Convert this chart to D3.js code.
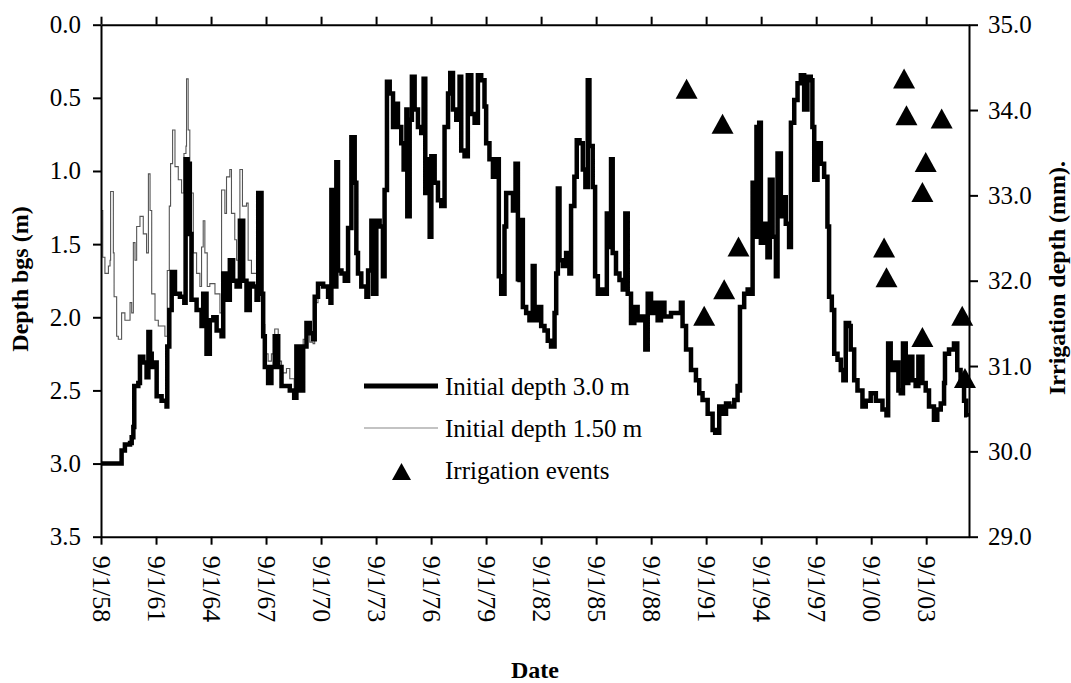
<!DOCTYPE html>
<html>
<head>
<meta charset="utf-8">
<script src="https://cdn.jsdelivr.net/npm/d3@7"></script>
<style>
  html, body { margin: 0; padding: 0; background: #fff; }
  svg { display: block; }
  text { font-family: "Liberation Serif", "Times New Roman", serif; fill: #000; }
</style>
</head>
<body>
<svg id="chart" width="1071" height="683"></svg>
<script>
// ---------------- DATA ----------------
// Depth below ground surface (m), simulation with initial depth 3.0 m (decimal years)
const depth3Year = [
1958.67,1959.52,1959.74,1959.79,1959.97,1960.25,1960.34,1960.43,1960.48,1960.70,1960.79,1960.97,1961.15,1961.25,1961.34,1961.43,1961.55,1961.70,1961.97,1962.24,
1962.28,1962.39,1962.52,1962.70,1962.97,1963.21,1963.28,1963.39,1963.51,1963.60,1963.88,1964.15,1964.24,1964.42,1964.60,1964.79,1964.97,1965.24,1965.33,1965.51,
1965.69,1965.87,1966.06,1966.24,1966.42,1966.60,1966.78,1966.96,1967.15,1967.24,1967.42,1967.51,1967.60,1967.78,1967.96,1968.14,1968.33,1968.51,1968.78,1968.96,
1969.20,1969.32,1969.51,1969.69,1969.87,1970.05,1970.23,1970.32,1970.50,1970.78,1971.05,1971.18,1971.23,1971.32,1971.50,1971.59,1971.78,1971.96,1972.14,1972.32,
1972.50,1972.59,1972.68,1972.86,1973.14,1973.23,1973.41,1973.50,1973.68,1973.86,1974.04,1974.13,1974.26,1974.41,1974.59,1974.68,1974.86,1975.04,1975.17,1975.32,
1975.37,1975.50,1975.62,1975.77,1975.95,1976.13,1976.26,1976.35,1976.50,1976.59,1976.68,1976.86,1977.04,1977.22,1977.40,1977.59,1977.71,1977.86,1978.04,1978.22,
1978.31,1978.49,1978.67,1978.86,1979.04,1979.22,1979.40,1979.58,1979.67,1979.85,1980.04,1980.22,1980.36,1980.49,1980.67,1980.76,1980.94,1981.13,1981.27,1981.40,
1981.49,1981.58,1981.67,1981.85,1982.03,1982.21,1982.31,1982.49,1982.67,1982.85,1983.03,1983.21,1983.40,1983.49,1983.58,1983.67,1983.85,1984.03,1984.21,1984.30,
1984.48,1984.61,1984.76,1984.94,1985.08,1985.21,1985.30,1985.48,1985.61,1985.76,1985.94,1986.12,1986.25,1986.39,1986.48,1986.57,1986.75,1986.94,1987.12,1987.26,
1987.39,1987.57,1987.75,1987.93,1988.12,1988.35,1988.48,1988.66,1988.84,1989.02,1989.20,1989.39,1989.57,1989.75,1990.02,1990.29,1990.38,1990.57,1990.84,1991.11,
1991.29,1991.47,1991.75,1992.02,1992.16,1992.38,1992.56,1992.75,1992.93,1993.20,1993.38,1993.47,1993.51,1993.74,1993.93,1994.11,1994.20,1994.29,1994.41,1994.56,
1994.65,1994.83,1995.01,1995.14,1995.29,1995.47,1995.56,1995.74,1995.83,1996.01,1996.19,1996.29,1996.47,1996.65,1996.83,1997.01,1997.19,1997.37,1997.46,1997.56,
1997.74,1997.92,1998.10,1998.28,1998.37,1998.52,1998.65,1998.83,1999.01,1999.15,1999.28,1999.46,1999.55,1999.74,1999.92,2000.19,2000.37,2000.64,2000.92,2001.28,
2001.50,2001.59,2001.73,2001.91,2002.15,2002.28,2002.40,2002.55,2002.69,2002.91,2003.09,2003.24,2003.46,2003.64,2003.82,2004.09,2004.27,2004.46,2004.64,2004.69,
2004.91,2005.18,2005.36,2005.54,2005.73,2005.85,2005.91
];
const depth3 = [
3.00,3.00,3.00,2.91,2.87,2.86,2.82,2.75,2.47,2.45,2.27,2.31,2.41,2.10,2.25,2.34,2.31,2.54,2.57,2.61,
2.20,1.95,1.69,1.84,1.86,1.90,0.92,0.95,1.43,1.88,1.95,2.06,1.84,2.25,2.02,2.00,2.09,2.13,1.70,1.88,
1.61,1.75,1.79,1.34,1.75,1.95,1.77,1.79,1.88,1.15,1.84,2.13,2.34,2.45,2.34,2.13,2.34,2.47,2.47,2.50,
2.55,2.20,2.50,2.20,2.04,2.11,2.15,1.86,1.77,1.79,1.86,1.90,1.13,1.79,0.94,1.68,1.70,1.75,1.39,0.77,
1.08,1.56,1.70,1.79,1.86,1.68,1.34,1.84,1.34,1.38,1.72,1.13,0.39,0.47,0.70,0.54,0.70,0.81,0.99,0.58,
1.31,0.65,0.355,0.58,0.70,0.74,0.37,1.15,0.92,1.45,0.90,1.08,1.20,1.24,0.70,0.47,0.33,0.58,0.65,0.355,
0.86,0.90,0.345,0.61,0.67,0.345,0.38,0.56,0.81,0.92,1.04,0.92,1.72,1.84,1.38,1.15,1.15,1.27,0.95,1.74,
1.745,1.335,1.93,1.97,2.02,1.65,2.02,1.93,2.06,2.09,2.16,2.20,1.97,1.70,1.12,1.61,1.65,1.56,1.70,1.24,
1.04,0.79,0.81,0.99,1.11,0.38,0.83,1.11,1.72,1.84,1.81,1.84,1.29,1.52,0.92,1.56,1.70,1.745,1.81,1.29,
1.84,2.04,1.93,2.02,1.995,2.22,1.84,1.97,1.90,2.02,1.90,1.995,1.995,1.97,1.97,1.90,2.06,2.22,2.36,2.43,
2.52,2.565,2.66,2.77,2.79,2.61,2.66,2.59,2.61,2.565,2.47,2.50,1.93,1.84,1.81,1.84,1.08,1.45,0.70,0.67,
1.49,1.36,1.59,1.06,1.45,1.72,0.88,1.31,1.18,1.36,1.52,0.67,0.515,0.40,0.345,0.58,0.355,0.38,0.70,1.06,
0.81,0.95,1.04,1.38,1.86,1.95,2.25,2.29,2.36,2.43,2.04,2.06,2.22,2.43,2.50,2.61,2.57,2.52,2.57,2.63,
2.67,2.18,2.36,2.31,2.50,2.52,2.18,2.45,2.27,2.43,2.47,2.27,2.45,2.50,2.61,2.70,2.63,2.59,2.45,2.25,
2.22,2.18,2.36,2.45,2.57,2.67,2.68
];

// Depth below ground surface (m), simulation with initial depth 1.50 m
// (only the early part differs; afterwards it coincides with the 3.0 m run)
const depth15Year = [
1958.67,1958.70,1958.76,1958.88,1959.07,1959.16,1959.19,1959.30,1959.34,1959.38,1959.52,1959.61,1959.79,1959.97,1960.16,1960.25,1960.34,1960.43,1960.52,1960.61,
1960.79,1960.97,1961.15,1961.25,1961.34,1961.43,1961.61,1961.79,1961.97,1962.15,1962.28,1962.39,1962.46,1962.57,1962.70,1962.88,1963.06,1963.19,1963.30,1963.33,
1963.42,1963.51,1963.70,1963.88,1964.06,1964.15,1964.24,1964.33,1964.46,1964.60,1964.88,1965.15,1965.24,1965.42,1965.51,1965.69,1965.78,1965.96,1966.06,1966.24,
1966.38,1966.60,1966.69,1966.87,1967.15,1967.24,1967.42,1967.51,1967.60,1967.78,1967.96,1968.14,1968.33,1968.51,1968.78,1968.96,1969.20,1969.32,1969.51,1969.69,
1969.87,1970.05,1970.23,1970.32
];
const depth15 = [
1.27,1.27,1.59,1.70,1.65,1.61,1.14,1.14,1.56,1.86,2.13,2.15,1.97,2.02,2.02,1.90,1.97,1.49,1.61,1.38,
1.31,1.43,1.56,1.02,1.27,1.84,2.02,2.06,2.06,2.13,1.68,1.24,0.95,0.72,0.97,1.06,1.15,0.88,0.83,0.37,
0.72,1.15,1.56,1.70,1.79,1.52,1.34,1.56,1.79,1.77,1.84,1.97,1.13,1.29,1.04,0.99,1.29,1.47,1.61,0.99,
1.24,1.22,1.61,1.70,1.79,1.15,1.84,2.05,2.25,2.30,2.25,2.08,2.30,2.38,2.35,2.42,2.50,2.20,2.45,2.15,
2.10,2.17,2.18,1.90
];

// Irrigation events: date (decimal year) and irrigation depth (mm)
const irrigYear  = [1990.60,1992.56,1991.56,1992.65,1993.43,2002.46,2002.59,2004.51,2003.64,2003.46,2001.37,2001.50,2003.46,2005.63,2005.78];
const irrigDepth = [34.25,  33.84,  31.59,  31.90,  32.40,  34.37,  33.94,  33.90,  33.39,  33.04,  32.39,  32.04,  31.34,  31.59,  30.86];

// Axis ticks
const xTickYears  = [1958,1961,1964,1967,1970,1973,1976,1979,1982,1985,1988,1991,1994,1997,2000,2003];
const xTickLabels = ["9/1/58","9/1/61","9/1/64","9/1/67","9/1/70","9/1/73","9/1/76","9/1/79","9/1/82","9/1/85","9/1/88","9/1/91","9/1/94","9/1/97","9/1/00","9/1/03"];
const yLeftTicks  = [0,0.5,1,1.5,2,2.5,3,3.5];
const yRightTicks = [29,30,31,32,33,34,35];

const legendLabels = ["Initial depth 3.0 m","Initial depth 1.50 m","Irrigation events"];

// ---------------- CHART ----------------
const svg = d3.select("#chart");
const M = {left: 101, right: 969, top: 24.7, bottom: 536.7};

function yearToDate(y) {
  const Y = Math.floor(y);
  const a = new Date(Y, 0, 1), b = new Date(Y + 1, 0, 1);
  return new Date(+a + (y - Y) * (b - a));
}

const x = d3.scaleTime()
  .domain([new Date(1958, 8, 1), new Date(2006, 0, 1)])
  .range([M.left, M.right]);
const y = d3.scaleLinear().domain([0, 3.5]).range([M.top, M.bottom]);
const y2 = d3.scaleLinear().domain([29, 35]).range([M.bottom, M.top]);

const thick = depth3Year.map((t, i) => ({d: yearToDate(t), v: depth3[i]}));
const lastThin = depth15Year[depth15Year.length - 1];
const thin = depth15Year.map((t, i) => ({d: yearToDate(t), v: depth15[i]}))
  .concat(depth3Year.map((t, i) => ({t, v: depth3[i]})).filter(p => p.t > lastThin)
    .map(p => ({d: yearToDate(p.t), v: p.v})));

const line = d3.line().x(p => x(p.d)).y(p => y(p.v)).curve(d3.curveStepAfter);

svg.append("path").datum(thin).attr("d", line)
  .attr("fill", "none").attr("stroke", "#555").attr("stroke-width", 1.1);
svg.append("path").datum(thick).attr("d", line)
  .attr("fill", "none").attr("stroke", "#000").attr("stroke-width", 4.5)
  .attr("stroke-linejoin", "miter").attr("stroke-miterlimit", 2);

// Irrigation triangles
function tri(cx, cy, w, h) {
  return `M${cx},${cy - h / 2}L${cx + w / 2},${cy + h / 2}L${cx - w / 2},${cy + h / 2}Z`;
}
svg.append("g").selectAll("path")
  .data(irrigYear.map((t, i) => ({d: yearToDate(t), v: irrigDepth[i]})))
  .join("path")
  .attr("d", p => tri(x(p.d), y2(p.v), 22, 20))
  .attr("fill", "#000");

// Axes
const xTickDates = xTickYears.map(yy => new Date(yy, 8, 1));
const fmtX = (d, i) => xTickLabels[i];

const axisStyle = g => {
  g.select(".domain").attr("stroke", "#000").attr("stroke-width", 2);
  g.selectAll(".tick line").attr("stroke", "#000").attr("stroke-width", 2);
};

const gB = svg.append("g").attr("transform", `translate(0,${M.bottom})`)
  .call(d3.axisBottom(x).tickValues(xTickDates).tickFormat(fmtX).tickSize(8).tickSizeOuter(0).tickPadding(0))
  .call(axisStyle);
gB.selectAll(".tick text")
  .attr("transform", "translate(0,19) rotate(90)")
  .attr("x", 0).attr("y", 0).attr("dy", "0.34em")
  .attr("text-anchor", "start")
  .style("font-size", "26px").style("font-family", "Liberation Serif");

const gT = svg.append("g").attr("transform", `translate(0,${M.top})`)
  .call(d3.axisTop(x).tickValues(xTickDates).tickFormat("").tickSize(8).tickSizeOuter(0))
  .call(axisStyle);

const gL = svg.append("g").attr("transform", `translate(${M.left},0)`)
  .call(d3.axisLeft(y).tickValues(yLeftTicks).tickFormat(d3.format(".1f")).tickSize(8).tickSizeOuter(0).tickPadding(12))
  .call(axisStyle);
gL.selectAll(".tick text").style("font-size", "25px").style("font-family", "Liberation Serif");

const gR = svg.append("g").attr("transform", `translate(${M.right},0)`)
  .call(d3.axisRight(y2).tickValues(yRightTicks).tickFormat(d3.format(".1f")).tickSize(9).tickSizeOuter(0).tickPadding(10))
  .call(axisStyle);
gR.selectAll(".tick text").style("font-size", "25px").style("font-family", "Liberation Serif");

// Axis titles
svg.append("text")
  .attr("transform", `translate(28,279) rotate(-90)`)
  .attr("text-anchor", "middle")
  .style("font-size", "24px").style("font-weight", "bold")
  .text("Depth bgs (m)");
svg.append("text")
  .attr("transform", `translate(1065,278) rotate(-90)`)
  .attr("text-anchor", "middle")
  .style("font-size", "24px").style("font-weight", "bold")
  .text("Irrigation depth (mm).");
svg.append("text")
  .attr("x", (M.left + M.right) / 2).attr("y", 678)
  .attr("text-anchor", "middle")
  .style("font-size", "24px").style("font-weight", "bold")
  .text("Date");

// Legend
const lg = svg.append("g");
const rows = [386, 428, 470];
lg.append("line").attr("x1", 364).attr("x2", 438).attr("y1", rows[0]).attr("y2", rows[0])
  .attr("stroke", "#000").attr("stroke-width", 5);
lg.append("line").attr("x1", 364).attr("x2", 438).attr("y1", rows[1]).attr("y2", rows[1])
  .attr("stroke", "#888").attr("stroke-width", 1.1);
lg.append("path").attr("d", tri(401.5, rows[2] + 1.5, 19, 17)).attr("fill", "#000");
lg.selectAll("text").data(legendLabels).join("text")
  .attr("x", 445).attr("y", (d, i) => rows[i] + 8.5)
  .style("font-size", "25px")
  .text(d => d);
</script>
</body>
</html>
